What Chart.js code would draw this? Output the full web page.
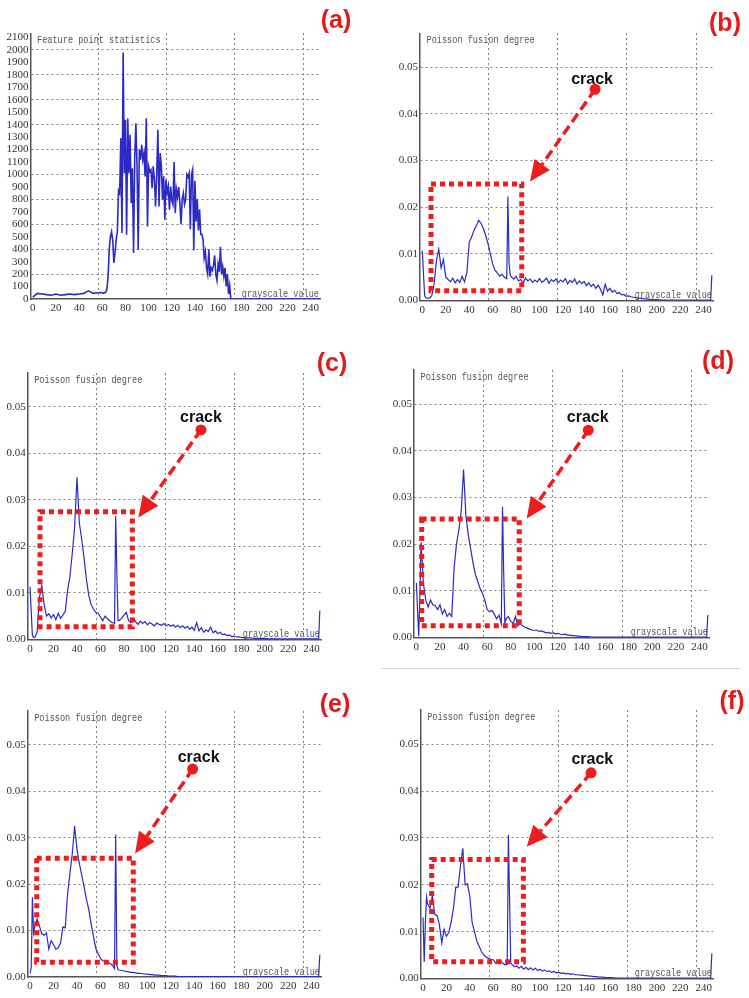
<!DOCTYPE html>
<html>
<head>
<meta charset="utf-8">
<script src="https://cdn.jsdelivr.net/npm/chart.js@4.4.1/dist/chart.umd.min.js"></script>
<style>
  body { margin: 0; background: #fff; width: 749px; height: 998px; position: relative; overflow: hidden; }
  canvas { position: absolute; }
  .tag { position: absolute; font: bold 25px "Liberation Sans", Arial, sans-serif; color: #e31a1c; transform: translate(-50%, -50%); }
  .sep { position: absolute; left: 381px; top: 668px; width: 359px; height: 1px; background: #d6d6d6; }
</style>
</head>
<body>
<div class="sep"></div>
<script>
// x axis labels and the dashed vertical grid positions (grayscale units)
const grayTicks = [0, 20, 40, 60, 80, 100, 120, 140, 160, 180, 200, 220, 240];
const gridLevels = [56.5, 115.5, 174.5, 233.5];

// (a) feature point statistics
const countTicks = [0, 100, 200, 300, 400, 500, 600, 700, 800, 900, 1000, 1100, 1200, 1300, 1400, 1500, 1600, 1700, 1800, 1900, 2000, 2100];
const grayA = [0, 4, 8, 12, 16, 20, 24, 28, 32, 36, 40, 44, 48, 52, 56,
  60, 61, 62, 63, 64, 65, 66, 67, 68, 69,
  70, 71, 72, 73, 74, 75, 76, 77, 78, 79,
  80, 81, 82, 83, 84, 85, 86, 87, 88, 89,
  90, 91, 92, 93, 94, 95, 96, 97, 98, 99,
  100, 101, 102, 103, 104, 105, 106, 107, 108, 109,
  110, 111, 112, 113, 114, 115, 116, 117, 118, 119,
  120, 121, 122, 123, 124, 125, 126, 127, 128, 129,
  130, 131, 132, 133, 134, 135, 136, 137, 138, 139,
  140, 141, 142, 143, 144, 145, 146, 147, 148, 149,
  150, 151, 152, 153, 154, 155, 156, 157, 158, 159,
  160, 161, 162, 163, 164, 165, 166, 167, 168, 169,
  170, 171, 172, 180, 248];
const countA = [15, 45, 40, 35, 30, 40, 30, 35, 40, 35, 40, 45, 65, 45, 50,
  50, 45, 50, 55, 80, 180, 400, 500, 540, 470,
  290, 370, 475, 540, 870, 850, 1292, 530, 1980, 1011,
  1440, 516, 1450, 1011, 1319, 770, 1050, 370, 1130, 1412,
  1065, 396, 1200, 1118, 1238, 1118, 1172, 985, 1452, 583,
  1065, 1025, 1038, 890, 1065, 958, 744, 1011, 1359, 744,
  1172, 1065, 797, 985, 637, 958, 850, 904, 717, 904,
  790, 760, 1100, 690, 880, 820, 900, 770, 600, 800,
  850, 760, 800, 1000, 980, 1010, 560, 1000, 1040, 390,
  950, 620, 800, 550, 720, 520, 520, 480, 330, 380,
  250, 200, 400, 180, 250, 230, 270, 350, 200, 150,
  280, 220, 420, 200, 260, 180, 250, 100, 200, 40,
  110, 0, 0, 0, 0];

// (b)-(f) Poisson fusion degree, all sampled at the same grayscale levels
const fusionTicks = [0, 0.01, 0.02, 0.03, 0.04, 0.05];
const grayP = [0, 1, 2, 3,
  4, 6, 8, 10, 12, 14, 16, 18, 20, 22,
  24, 26, 28, 30, 32, 34, 36, 38, 40, 42,
  44, 46, 48, 50, 52, 54, 56, 58, 60, 62,
  64, 66, 68, 70, 72, 73, 74, 75,
  76, 78, 80, 82, 84, 86, 88, 90, 92, 94,
  96, 98, 100, 102, 104, 106, 108, 110, 112, 114,
  116, 118, 120, 122, 124, 126, 128, 130, 132, 134,
  136, 138, 140, 142, 144, 146, 148, 150, 152, 154,
  156, 158, 160, 162, 164, 166, 168, 170, 172, 174,
  176, 178, 180,
  184, 188, 192, 196, 200, 204, 208, 212, 216, 220, 224, 228, 232, 236, 240, 244,
  246, 247];
const fusionB = [0.0107, 0.0055, 0.0010, 0.0006,
  0.0005, 0.0005, 0.0010, 0.0035, 0.0085, 0.0110, 0.0070, 0.0088, 0.0050, 0.0045,
  0.0040, 0.0048, 0.0038, 0.0045, 0.0039, 0.0052, 0.0040, 0.0060, 0.0125, 0.0136,
  0.0150, 0.0160, 0.0172, 0.0166, 0.0155, 0.0140, 0.0122, 0.0100, 0.0078, 0.0065,
  0.0059, 0.0052, 0.0056, 0.0050, 0.0047, 0.0223, 0.0080, 0.0055,
  0.0050, 0.0046, 0.0052, 0.0042, 0.0045, 0.0038, 0.0048, 0.0042, 0.0046, 0.0039,
  0.0044, 0.0040, 0.0047, 0.0039, 0.0043, 0.0048, 0.0037, 0.0045, 0.0041, 0.0046,
  0.0038, 0.0044, 0.0040, 0.0047, 0.0036, 0.0043, 0.0039, 0.0046, 0.0035, 0.0042,
  0.0036, 0.0041, 0.0032, 0.0038, 0.0030, 0.0035, 0.0026, 0.0033, 0.0024, 0.0012,
  0.0035, 0.0020, 0.0026, 0.0018, 0.0022, 0.0015, 0.0017, 0.0012, 0.0013, 0.0009,
  0.0010, 0.0008, 0.0007,
  0.0005, 0.0004, 0.0003, 0.0002, 0.0002, 0.0001, 0.0001, 0.0001, 0.0001, 0.0001, 0.0001, 0.0001, 0.0001, 0.0001, 0.0001, 0.0001,
  0.0001, 0.0054];
const fusionC = [0.0113, 0.0060, 0.0008, 0.0004,
  0.0004, 0.0015, 0.0090, 0.0115, 0.0075, 0.0050, 0.0055, 0.0046, 0.0053, 0.0042,
  0.0056, 0.0045, 0.0052, 0.0060, 0.0105, 0.0135, 0.0185, 0.0240, 0.0348, 0.0250,
  0.0215, 0.0175, 0.0130, 0.0095, 0.0075, 0.0065, 0.0058, 0.0056, 0.0048, 0.0040,
  0.0050, 0.0044, 0.0040, 0.0036, 0.0034, 0.0265, 0.0140, 0.0040,
  0.0040, 0.0045, 0.0052, 0.0058, 0.0040, 0.0036, 0.0045, 0.0038, 0.0032, 0.0039,
  0.0034, 0.0038, 0.0031, 0.0036, 0.0033, 0.0029, 0.0035, 0.0032, 0.0030, 0.0034,
  0.0029, 0.0032, 0.0028, 0.0031, 0.0026, 0.0030, 0.0025, 0.0029, 0.0024, 0.0028,
  0.0022, 0.0026, 0.0019, 0.0036, 0.0018, 0.0025, 0.0015, 0.0020, 0.0017, 0.0026,
  0.0014, 0.0018, 0.0012, 0.0015, 0.0010, 0.0011, 0.0008, 0.0009, 0.0006, 0.0007,
  0.0005, 0.0005, 0.0004,
  0.0003, 0.0003, 0.0002, 0.0002, 0.0002, 0.0001, 0.0001, 0.0001, 0.0001, 0.0001, 0.0001, 0.0001, 0.0001, 0.0001, 0.0001, 0.0001,
  0.0001, 0.0062];
const fusionD = [0.0117, 0.0060, 0.0003, 0.0090,
  0.0204, 0.0115, 0.0080, 0.0065, 0.0080, 0.0070, 0.0068, 0.0060, 0.0070, 0.0050,
  0.0060, 0.0045, 0.0052, 0.0045, 0.0150, 0.0200, 0.0230, 0.0270, 0.0360, 0.0260,
  0.0220, 0.0190, 0.0160, 0.0135, 0.0120, 0.0105, 0.0095, 0.0080, 0.0060, 0.0055,
  0.0058, 0.0050, 0.0040, 0.0048, 0.0030, 0.0280, 0.0140, 0.0030,
  0.0040, 0.0045, 0.0035, 0.0030, 0.0045, 0.0025, 0.0030, 0.0025, 0.0022, 0.0020,
  0.0018, 0.0016, 0.0015, 0.0016, 0.0013, 0.0014, 0.0012, 0.0010, 0.0011, 0.0009,
  0.0010, 0.0008, 0.0009, 0.0007, 0.0006, 0.0007, 0.0005, 0.0005, 0.0004, 0.0004,
  0.0003, 0.0003, 0.0002, 0.0002, 0.0002, 0.0002, 0.0001, 0.0001, 0.0001, 0.0001,
  0.0001, 0.0001, 0.0001, 0.0001, 0.0001, 0.0001, 0.0001, 0.0001, 0.0001, 0.0001,
  0.0001, 0.0001, 0.0001,
  0.0001, 0.0001, 0.0001, 0.0001, 0.0001, 0.0001, 0.0001, 0.0001, 0.0001, 0.0001, 0.0001, 0.0001, 0.0001, 0.0001, 0.0001, 0.0001,
  0.0001, 0.0048];
const fusionE = [0.0008, 0.0020, 0.0172, 0.0095,
  0.0108, 0.0125, 0.0110, 0.0093, 0.0090, 0.0095, 0.0060, 0.0078, 0.0070, 0.0060,
  0.0063, 0.0073, 0.0108, 0.0106, 0.0180, 0.0223, 0.0266, 0.0325, 0.0275, 0.0245,
  0.0220, 0.0195, 0.0168, 0.0146, 0.0115, 0.0088, 0.0062, 0.0050, 0.0040, 0.0035,
  0.0034, 0.0032, 0.0029, 0.0026, 0.0018, 0.0307, 0.0025, 0.0016,
  0.0015, 0.0014, 0.0013, 0.0012, 0.0011, 0.0010, 0.0010, 0.0009, 0.0008, 0.0008,
  0.0007, 0.0006, 0.0006, 0.0005, 0.0005, 0.0004, 0.0004, 0.0004, 0.0003, 0.0003,
  0.0003, 0.0002, 0.0002, 0.0002, 0.0002, 0.0001, 0.0001, 0.0001, 0.0001, 0.0001,
  0.0001, 0.0001, 0.0001, 0.0001, 0.0001, 0.0001, 0.0001, 0.0001, 0.0001, 0.0001,
  0.0001, 0.0001, 0.0001, 0.0001, 0.0001, 0.0001, 0.0001, 0.0001, 0.0001, 0.0001,
  0.0001, 0.0001, 0.0001,
  0.0001, 0.0001, 0.0001, 0.0001, 0.0001, 0.0001, 0.0001, 0.0001, 0.0001, 0.0001, 0.0001, 0.0001, 0.0001, 0.0001, 0.0001, 0.0001,
  0.0001, 0.0048];
const fusionF = [0.0130, 0.0035, 0.0120, 0.0174,
  0.0159, 0.0150, 0.0177, 0.0137, 0.0134, 0.0115, 0.0076, 0.0105, 0.0090, 0.0098,
  0.0120, 0.0150, 0.0195, 0.0195, 0.0240, 0.0278, 0.0200, 0.0202, 0.0175, 0.0119,
  0.0100, 0.0080, 0.0069, 0.0057, 0.0050, 0.0046, 0.0043, 0.0041, 0.0040, 0.0033,
  0.0037, 0.0040, 0.0033, 0.0029, 0.0030, 0.0307, 0.0170, 0.0033,
  0.0030, 0.0025, 0.0027, 0.0022, 0.0026, 0.0020, 0.0024, 0.0019, 0.0023, 0.0018,
  0.0022, 0.0017, 0.0020, 0.0016, 0.0018, 0.0015, 0.0016, 0.0013, 0.0015, 0.0012,
  0.0013, 0.0011, 0.0012, 0.0010, 0.0011, 0.0009, 0.0010, 0.0008, 0.0008, 0.0007,
  0.0007, 0.0006, 0.0006, 0.0005, 0.0005, 0.0004, 0.0004, 0.0003, 0.0003, 0.0003,
  0.0002, 0.0002, 0.0002, 0.0002, 0.0001, 0.0001, 0.0001, 0.0001, 0.0001, 0.0001,
  0.0001, 0.0001, 0.0001,
  0.0001, 0.0001, 0.0001, 0.0001, 0.0001, 0.0001, 0.0001, 0.0001, 0.0001, 0.0001, 0.0001, 0.0001, 0.0001, 0.0001, 0.0001, 0.0001,
  0.0001, 0.0054];

const RED = '#ee1d1d';
const BLUE = '#2b2bc4';
const GRID = '#808080';

// frame = canvas [left, top, width, height]; plot = chart area [left, top, right, bottom] in page px
// crack annotation points are in data units
const panels = [
  { tag: '(a)', tagAt: [336, 19], frame: [0, 0, 372, 320], plot: [30.5, 33.3, 320, 299],
    title: 'Feature point statistics', gray: grayA, values: countA, yTicks: countTicks, yMax: 2134, lw: 1.6 },
  { tag: '(b)', tagAt: [725, 22], frame: [375, 0, 374, 320], plot: [420, 33.3, 713, 300.5],
    title: 'Poisson fusion degree', gray: grayP, values: fusionB, yTicks: fusionTicks, yMax: 0.0573, lw: 1.2,
    box: [7.4, 0.0021, 84.8, 0.0250], dot: [147.4, 0.0453], tip: [91.9, 0.0255], label: [144.8, 0.0473] },
  { tag: '(c)', tagAt: [332, 362], frame: [0, 320, 372, 335], plot: [27.7, 372.7, 321, 639.3],
    title: 'Poisson fusion degree', gray: grayP, values: fusionC, yTicks: fusionTicks, yMax: 0.0573, lw: 1.2,
    box: [8.5, 0.0027, 87.2, 0.0274], dot: [145.7, 0.0450], tip: [92.3, 0.0262], label: [145.7, 0.0477] },
  { tag: '(d)', tagAt: [718, 360], frame: [375, 320, 374, 335], plot: [414, 370, 709, 637.5],
    title: 'Poisson fusion degree', gray: grayP, values: fusionD, yTicks: fusionTicks, yMax: 0.0573, lw: 1.2,
    box: [4.5, 0.0025, 87.2, 0.0254], dot: [145.7, 0.0444], tip: [93.5, 0.0255], label: [145.2, 0.0470] },
  { tag: '(e)', tagAt: [335, 703], frame: [0, 655, 372, 343], plot: [27.7, 711, 321, 977],
    title: 'Poisson fusion degree', gray: grayP, values: fusionE, yTicks: fusionTicks, yMax: 0.0573, lw: 1.2,
    box: [5.7, 0.0032, 88, 0.0256], dot: [138.6, 0.0448], tip: [89.5, 0.0266], label: [143.7, 0.0473] },
  { tag: '(f)', tagAt: [732, 700], frame: [375, 655, 374, 343], plot: [420.7, 710, 713, 978.5],
    title: 'Poisson fusion degree', gray: grayP, values: fusionF, yTicks: fusionTicks, yMax: 0.0573, lw: 1.2,
    box: [7.4, 0.0036, 85.8, 0.0254], dot: [143.7, 0.0439], tip: [88.7, 0.0281], label: [144.8, 0.0468] }
];

Chart.defaults.font.family = '"Liberation Serif", serif';

// narrow monospace text, close to the SimSun look of the original
function monoText(ctx, text, x, y, align) {
  ctx.save();
  ctx.translate(x, y);
  ctx.scale(0.78, 1);
  ctx.font = '11px "Liberation Mono", monospace';
  ctx.textAlign = align;
  ctx.textBaseline = 'middle';
  ctx.fillText(text, 0, 0);
  ctx.restore();
}

function marksPlugin(p) {
  return {
    id: 'panelMarks',
    afterDatasetsDraw(chart) {
      const { ctx, chartArea: a, scales: { x, y } } = chart;
      ctx.save();
      ctx.fillStyle = '#555';
      monoText(ctx, p.title, a.left + 6.5, a.top + 7, 'left');
      monoText(ctx, 'grayscale value', a.right - 1, a.bottom - 5, 'right');
      if (p.box) {
        const bx1 = x.getPixelForValue(p.box[0]), by1 = y.getPixelForValue(p.box[1]);
        const bx2 = x.getPixelForValue(p.box[2]), by2 = y.getPixelForValue(p.box[3]);
        ctx.strokeStyle = RED;
        ctx.fillStyle = RED;
        ctx.lineWidth = 5;
        ctx.setLineDash([5, 4]);
        ctx.strokeRect(bx1, by2, bx2 - bx1, by1 - by2);

        const dx = x.getPixelForValue(p.dot[0]), dy = y.getPixelForValue(p.dot[1]);
        const tx = x.getPixelForValue(p.tip[0]), ty = y.getPixelForValue(p.tip[1]);
        const ang = Math.atan2(ty - dy, tx - dx);
        const hx = tx - 21 * Math.cos(ang), hy = ty - 21 * Math.sin(ang);
        ctx.lineWidth = 3.5;
        ctx.setLineDash([10, 5]);
        ctx.beginPath();
        ctx.moveTo(dx, dy);
        ctx.lineTo(hx, hy);
        ctx.stroke();
        ctx.setLineDash([]);
        ctx.beginPath();
        ctx.moveTo(tx, ty);
        ctx.lineTo(hx + 9.5 * Math.sin(ang), hy - 9.5 * Math.cos(ang));
        ctx.lineTo(hx - 9.5 * Math.sin(ang), hy + 9.5 * Math.cos(ang));
        ctx.closePath();
        ctx.fill();
        ctx.beginPath();
        ctx.arc(dx, dy, 5.5, 0, Math.PI * 2);
        ctx.fill();

        ctx.fillStyle = '#111';
        ctx.font = 'bold 16px "Liberation Sans", Arial, sans-serif';
        ctx.textAlign = 'center';
        ctx.textBaseline = 'middle';
        ctx.fillText('crack', x.getPixelForValue(p.label[0]), y.getPixelForValue(p.label[1]));
      }
      ctx.restore();
    }
  };
}

panels.forEach(p => {
  const [fl, ft, fw, fh] = p.frame;
  const [pl, pt, pr, pb] = p.plot;
  const canvas = document.createElement('canvas');
  canvas.width = fw;
  canvas.height = fh;
  canvas.style.left = fl + 'px';
  canvas.style.top = ft + 'px';
  document.body.appendChild(canvas);

  const tag = document.createElement('div');
  tag.className = 'tag';
  tag.textContent = p.tag;
  tag.style.left = p.tagAt[0] + 'px';
  tag.style.top = p.tagAt[1] + 'px';
  document.body.appendChild(tag);

  const isCount = p.yTicks === countTicks;
  const tickFont = { family: '"Liberation Serif", serif', size: 11 };

  new Chart(canvas, {
    type: 'line',
    data: {
      datasets: [{
        data: p.gray.map((g, i) => ({ x: g, y: p.values[i] })),
        borderColor: BLUE,
        borderWidth: p.lw,
        pointRadius: 0,
        tension: 0
      }]
    },
    options: {
      responsive: false,
      animation: false,
      events: [],
      layout: { padding: { top: pt - ft, right: fl + fw - pr, left: 0, bottom: 0 } },
      plugins: { legend: { display: false }, tooltip: { enabled: false } },
      scales: {
        x: {
          type: 'linear', min: -2, max: 248,
          afterBuildTicks: s => { s.ticks = grayTicks.map(v => ({ value: v })); },
          afterFit: s => { s.height = ft + fh - pb; },
          grid: { display: false, drawTicks: false },
          border: { display: true, color: '#555', width: 1.5 },
          ticks: { font: tickFont, color: '#333', padding: 3, maxRotation: 0, autoSkip: false }
        },
        xg: {
          type: 'linear', position: 'top', min: -2, max: 248,
          afterBuildTicks: s => { s.ticks = gridLevels.map(v => ({ value: v })); },
          afterFit: s => { s.height = 0; },
          ticks: { display: false },
          grid: { color: GRID, lineWidth: 1, drawTicks: false },
          border: { display: false, dash: [2, 3] }
        },
        y: {
          min: 0, max: p.yMax,
          afterBuildTicks: s => { s.ticks = p.yTicks.map(v => ({ value: v })); },
          afterFit: s => { s.width = pl - fl; },
          grid: {
            drawTicks: false, lineWidth: 1,
            color: c => {
              const v = c.tick ? c.tick.value : 0;
              if (v <= 0) return 'rgba(0,0,0,0)';
              if (isCount && v % 200 !== 0) return 'rgba(0,0,0,0)';
              return GRID;
            }
          },
          border: { display: true, color: '#555', width: 1.5, dash: [2, 3] },
          ticks: {
            font: tickFont, color: '#333', padding: 2, autoSkip: false,
            callback: v => isCount ? String(v) : v.toFixed(2)
          }
        }
      }
    },
    plugins: [marksPlugin(p)]
  });
});
</script>
</body>
</html>
